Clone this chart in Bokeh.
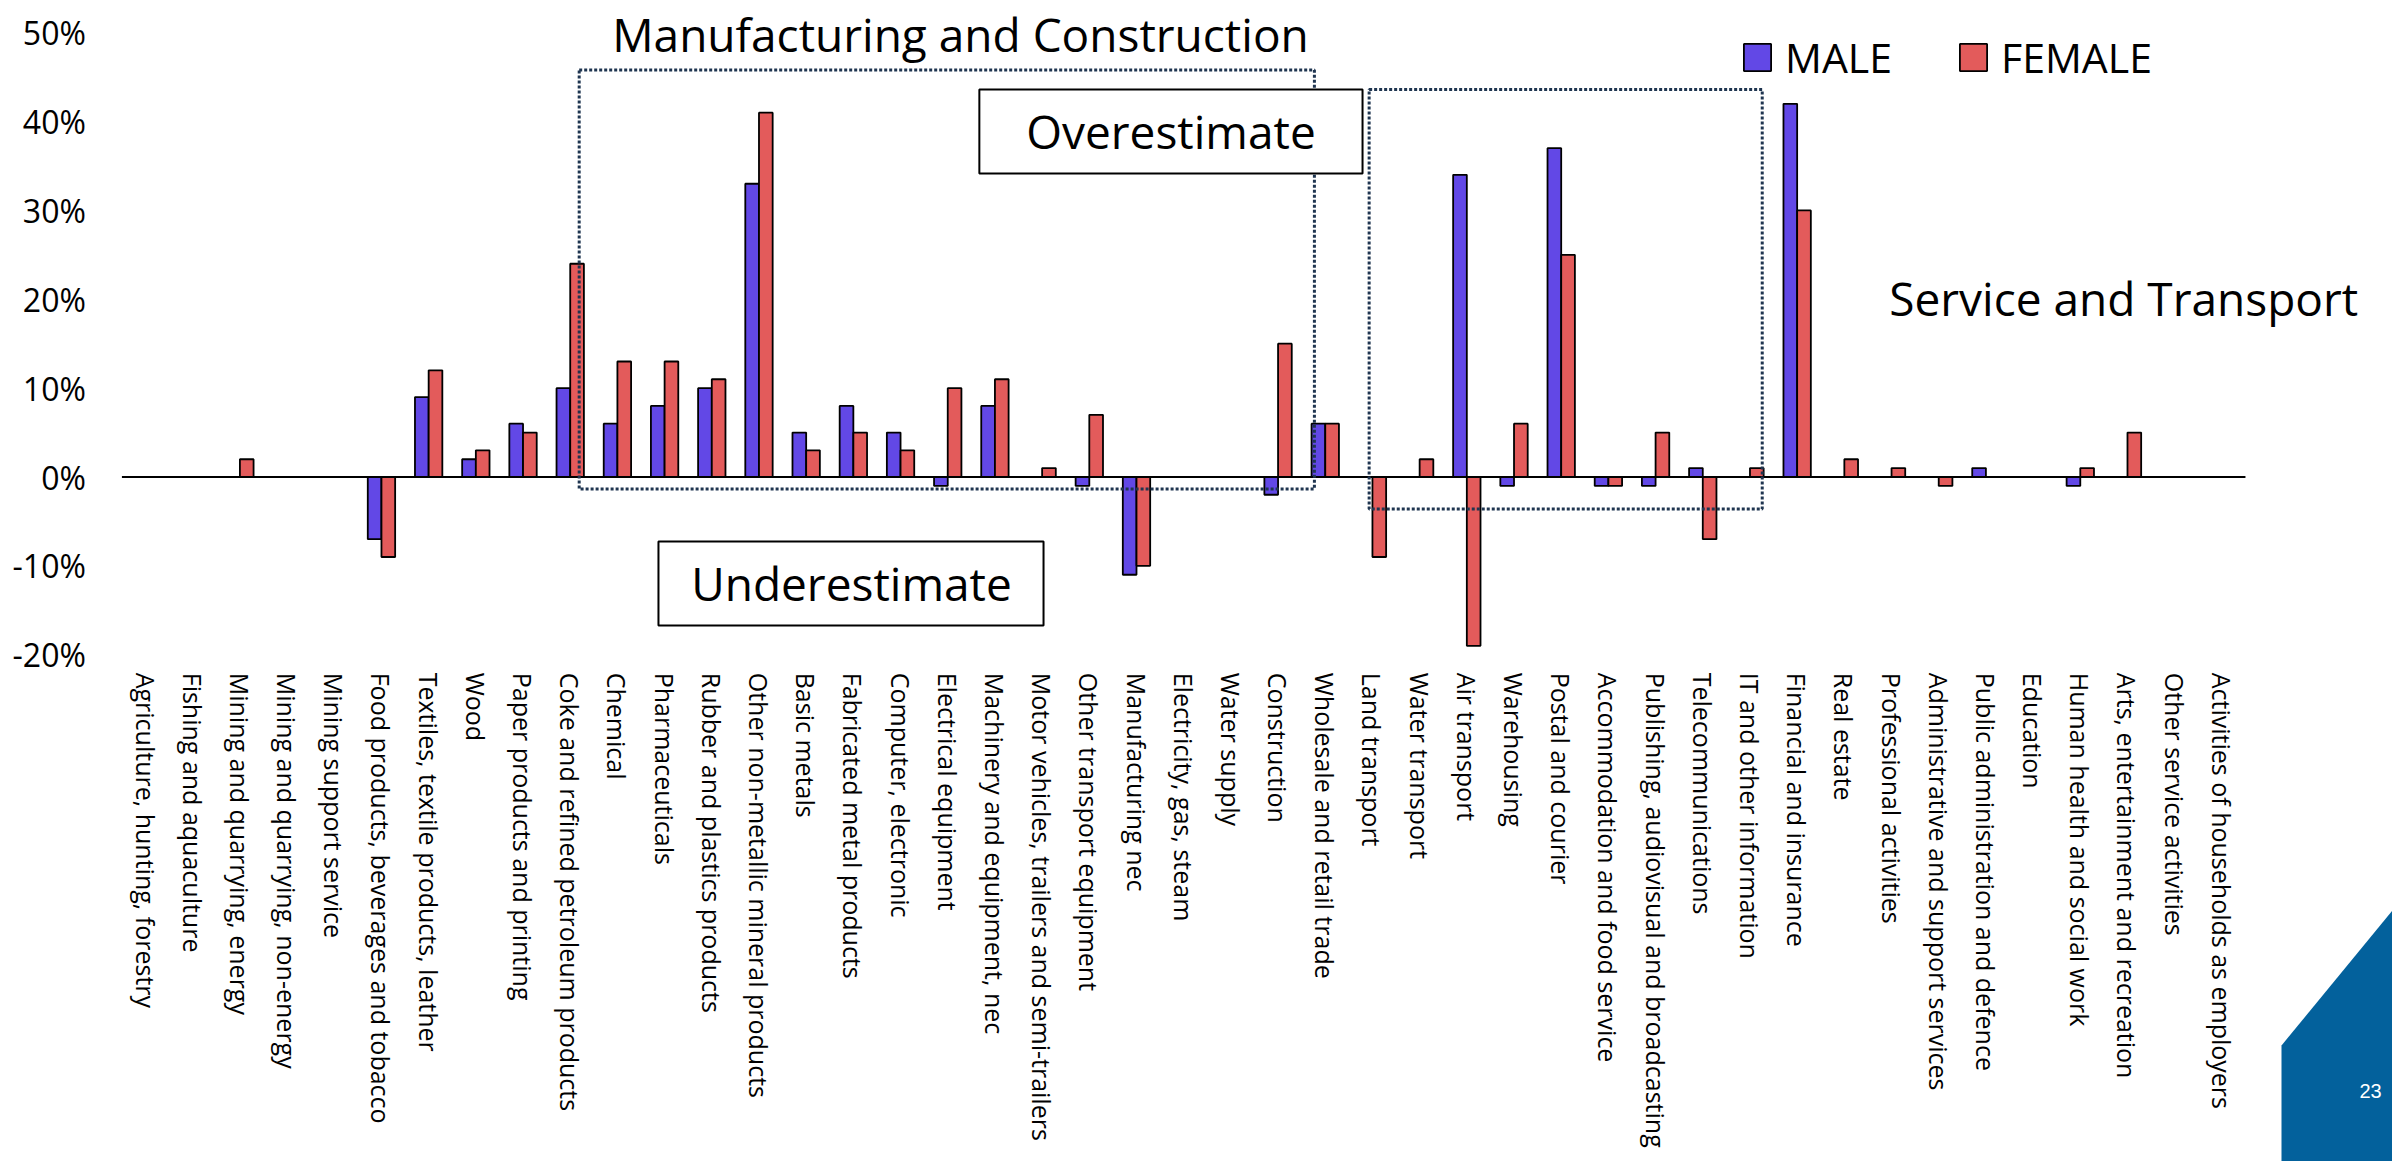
import math
from bokeh.plotting import figure
from bokeh.models import (ColumnDataSource, Range1d, FixedTicker, PrintfTickFormatter,
                          BoxAnnotation, Label, Legend, LegendItem, PolyAnnotation)
from bokeh.transform import dodge
from bokeh.embed import file_html
from bokeh.resources import INLINE

# Industries along the x axis
industries = [
    "Agriculture, hunting, forestry",
    "Fishing and aquaculture",
    "Mining and quarrying, energy",
    "Mining and quarrying, non-energy",
    "Mining support service",
    "Food products, beverages and tobacco",
    "Textiles, textile products, leather",
    "Wood",
    "Paper products and printing",
    "Coke and refined petroleum products",
    "Chemical",
    "Pharmaceuticals",
    "Rubber and plastics products",
    "Other non-metallic mineral products",
    "Basic metals",
    "Fabricated metal products",
    "Computer, electronic",
    "Electrical equipment",
    "Machinery and equipment, nec",
    "Motor vehicles, trailers and semi-trailers",
    "Other transport equipment",
    "Manufacturing nec",
    "Electricity, gas, steam",
    "Water supply",
    "Construction",
    "Wholesale and retail trade",
    "Land transport",
    "Water transport",
    "Air transport",
    "Warehousing",
    "Postal and courier",
    "Accommodation and food service",
    "Publishing, audiovisual and broadcasting",
    "Telecommunications",
    "IT and other information",
    "Financial and insurance",
    "Real estate",
    "Professional activities",
    "Administrative and support services",
    "Public administration and defence",
    "Education",
    "Human health and social work",
    "Arts, entertainment and recreation",
    "Other service activities",
    "Activities of households as employers",
]

# Relative error (%) by sex
male = [0, 0, 0, 0, 0, -7, 9, 2, 6, 10, 6, 8, 10, 33, 5, 8, 5, -1, 8, 0, -1, -11, 0, 0, -2,
        6, 0, 0, 34, -1, 37, -1, -1, 1, 0, 42, 0, 0, 0, 1, 0, -1, 0, 0, 0]
female = [0, 0, 2, 0, 0, -9, 12, 3, 5, 24, 13, 13, 11, 41, 3, 5, 3, 10, 11, 1, 7, -10, 0, 0, 15,
          6, -9, 2, -19, 6, 25, -1, 5, -7, 1, 30, 2, 1, -1, 0, 0, 1, 5, 0, 0]

y_ticks = [-20, -10, 0, 10, 20, 30, 40, 50]

MALE_COLOR = "#6248E6"
FEMALE_COLOR = "#E35B5B"
GROUP_COLOR = "#1F3550"
FONT = "Open Sans"

n = len(industries)
idx = list(range(n))
source = ColumnDataSource(dict(idx=idx, male=male, female=female))

# The frame fills the whole page; the axes sit at fixed data positions inside it.
p = figure(width=2392, height=1161,
           x_range=Range1d(-3.073, 47.616),
           y_range=Range1d(-77.03, 53.623),
           output_backend="svg", toolbar_location=None,
           min_border_left=0, min_border_right=0,
           min_border_top=0, min_border_bottom=0)
p.outline_line_color = None
p.grid.visible = False
p.background_fill_color = "white"
p.border_fill_color = "white"

BAR_W = 0.29
r_m = p.vbar(x=dodge("idx", -BAR_W / 2, range=p.x_range), top="male", bottom=0, width=BAR_W,
             source=source, fill_color=MALE_COLOR, line_color="black", line_width=1.8)
r_f = p.vbar(x=dodge("idx", BAR_W / 2, range=p.x_range), top="female", bottom=0, width=BAR_W,
             source=source, fill_color=FEMALE_COLOR, line_color="black", line_width=1.8)

# zero line across the category span
p.segment(x0=[-0.5], x1=[n - 0.5], y0=[0], y1=[0], line_color="black", line_width=2)

# x axis: industry names, rotated, anchored at the bottom of the value scale
xa = p.xaxis[0]
xa.fixed_location = min(y_ticks)
xa.ticker = FixedTicker(ticks=idx)
xa.major_label_overrides = {i: name for i, name in enumerate(industries)}
xa.major_label_orientation = -math.pi / 2
xa.major_label_text_font = FONT
xa.major_label_text_font_size = "25px"
xa.major_label_text_color = "black"
xa.major_label_standoff = 18
xa.axis_line_color = None
xa.major_tick_line_color = None
xa.minor_tick_line_color = None
xa.major_tick_out = 0
xa.major_tick_in = 0

# y axis: percentages, anchored at the left of the first category
ya = p.yaxis[0]
ya.fixed_location = -0.5
ya.ticker = FixedTicker(ticks=y_ticks)
ya.formatter = PrintfTickFormatter(format="%d%%")
ya.major_label_text_font = FONT
ya.major_label_text_font_size = "32px"
ya.major_label_text_color = "black"
ya.major_label_standoff = 36
ya.axis_line_color = None
ya.major_tick_line_color = None
ya.minor_tick_line_color = None
ya.major_tick_out = 0
ya.major_tick_in = 0

# dotted group outlines
for left, right, top, bottom in [(9.19, 24.77, 45.8, -1.35), (25.93, 34.26, 43.6, -3.6)]:
    p.add_layout(BoxAnnotation(left=left, right=right, top=top, bottom=bottom,
                               fill_color=None, fill_alpha=0, line_color=GROUP_COLOR,
                               line_alpha=1, line_width=3, line_dash="3 2"))

# boxed notes
for left, right, top, bottom in [(17.67, 25.79, 43.6, 34.15), (10.87, 19.03, -7.26, -16.71)]:
    p.add_layout(BoxAnnotation(left=left, right=right, top=top, bottom=bottom,
                               fill_color="white", fill_alpha=1, line_color="black",
                               line_alpha=1, line_width=2))


def note(x, y, text):
    p.add_layout(Label(x=x, y=y, text=text, text_font=FONT, text_font_size="46px",
                       text_color="black", text_align="center", text_baseline="alphabetic"))


note(17.27, 49.9, "Manufacturing and Construction")
note(21.73, 38.9, "Overestimate")
note(14.96, -11.9, "Underestimate")
note(41.92, 20.2, "Service and Transport")

legend = Legend(items=[LegendItem(label="MALE", renderers=[r_m]),
                       LegendItem(label="FEMALE", renderers=[r_f])],
                orientation="horizontal", location=(1740, 1076),
                glyph_width=34, glyph_height=34, label_standoff=11, spacing=64,
                padding=0, margin=0, border_line_color=None, background_fill_alpha=0,
                label_text_font=FONT, label_text_font_size="41px", label_text_color="black")
p.add_layout(legend)

# page corner marker
p.add_layout(PolyAnnotation(xs=[2281, 2281, 2392, 2392], ys=[1161, 1045, 910, 1161],
                            xs_units="canvas", ys_units="canvas",
                            fill_color="#03619C", fill_alpha=1, line_color=None))
p.add_layout(Label(x=2370, y=1090, x_units="canvas", y_units="canvas", text="23",
                   text_font="Liberation Sans", text_font_size="20px", text_color="white",
                   text_align="center", text_baseline="middle"))

open("out.html", "w").write(file_html(p, INLINE))
